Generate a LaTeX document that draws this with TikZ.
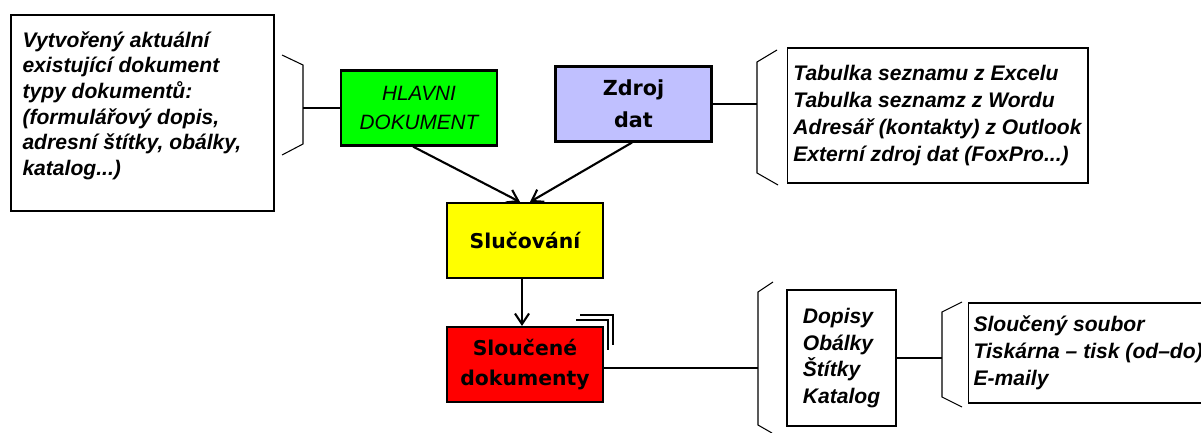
\documentclass[tikz,border=0pt]{standalone}
\usepackage{fontspec}
\setmainfont{Liberation Sans}[
  BoldFont={Liberation Sans Bold},
  ItalicFont={Liberation Sans Italic},
  BoldItalicFont={Liberation Sans Bold Italic}]
\newfontfamily\blokfont{DejaVu Sans}
\usetikzlibrary{arrows.meta}

\definecolor{zelena}{RGB}{0,255,0}
\definecolor{modra}{RGB}{192,192,255}
\definecolor{zluta}{RGB}{255,255,0}
\definecolor{cervena}{RGB}{255,0,0}

\tikzset{
  blok/.style={draw=black, line width=1.2pt, minimum width=3.12cm, minimum height=1.5cm,
    align=center, font={\fontsize{11.6}{17}\selectfont\blokfont\bfseries}},
  popis/.style={draw=black, line width=0.6pt, align=left,
    font={\fontsize{12}{15.2}\selectfont\bfseries\itshape}},
  sipka/.style={-{Straight Barb[length=6pt,width=8pt]}, line width=1.2pt},
  spoj/.style={line width=0.6pt},
  zavorka/.style={line width=0.6pt}
}

\begin{document}
\begin{tikzpicture}[x=0.02cm, y=-0.02cm]
    \useasboundingbox (0,0) rectangle (1201,433);
    \clip (0,0) rectangle (1201,433);

    % hlavni bloky
    \node[blok, fill=zelena, text=black,
      font={\fontsize{11.8}{16.5}\selectfont\itshape}] (hlavni) at (419,108) {HLAVNI\\DOKUMENT};
    \node[blok, fill=modra, font={\fontsize{11.8}{18}\selectfont\blokfont\bfseries}] (zdroj) at (633.5,104) {Zdroj\\dat};
    \node[blok, fill=zluta] (sluc) at (525,240.5) {Slučování};
    \node[blok, fill=cervena] (vysl) at (525,364.5) {Sloučené\\dokumenty};

    % popisy
    \node[popis, minimum width=5.26cm, minimum height=3.92cm] (ramecL) at (142.5,113) {};
    \node[popis, draw=none, inner sep=0pt, anchor=north west,
      font={\fontsize{12}{14.6}\selectfont\bfseries\itshape}] (textL) at (22,31)
      {Vytvořený aktuální\\existující dokument\\typy dokumentů:\\(formulářový dopis,\\adresní štítky, obálky,\\katalog...)};
    \node[popis, minimum width=6.02cm, minimum height=2.7cm] (zdroje) at (937.5,115.5)
      {Tabulka seznamu z Excelu\\Tabulka seznamz z Wordu\\Adresář (kontakty) z Outlook\\Externí zdroj dat (FoxPro...)};
    \node[popis, minimum width=2.18cm, minimum height=2.72cm] (druhy) at (841.5,358)
      {Dopisy\\Obálky\\Štítky\\Katalog};
    \node[popis, anchor=west, inner xsep=0.1cm, minimum height=2cm] (vystup) at (968,353)
      {Sloučený soubor\\Tiskárna – tisk (od–do)\\E-maily};

    % zavorky
    \draw[zavorka] (282,55) -- (303,65) -- (303,144) -- (282,155);
    \draw[zavorka] (777,50) -- (757,62) -- (757,173) -- (778,185);
    \draw[zavorka] (773,282) -- (758,292) -- (758,425) -- (772,433);
    \draw[zavorka] (962,302) -- (942,312) -- (942,397) -- (962,407);
    \coordinate (z1) at (303,108);
    \coordinate (z2) at (757,104);
    \coordinate (z3) at (758,368);
    \coordinate (z4) at (942,358);

    % vice dokumentu
    \draw[spoj] (580,315) -- (613,315) -- (613,345);
    \draw[spoj] (576,320) -- (608,320) -- (608,350);

    % spoje
    \draw[spoj] (z1) -- (hlavni.west);
    \draw[spoj] (zdroj.east) -- (z2);
    \draw[spoj] (vysl.east |- z3) -- (z3);
    \draw[spoj] (druhy.east) -- (z4);

    \draw[sipka] ([xshift=-0.12cm]hlavni.south) -- ([xshift=-0.1cm]sluc.north);
    \draw[sipka] ([xshift=-0.03cm]zdroj.south) -- ([xshift=0.1cm]sluc.north);
    \draw[sipka] ([xshift=-0.06cm]sluc.south) -- ([xshift=-0.06cm]vysl.north);
\end{tikzpicture}
\end{document}
